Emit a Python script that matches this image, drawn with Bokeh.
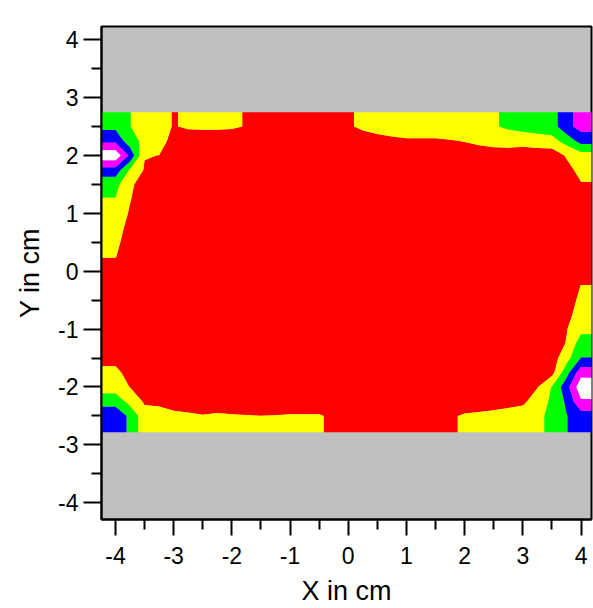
import numpy as np
from bokeh.plotting import figure
from bokeh.models import FixedTicker, Range1d
from bokeh.embed import file_html
from bokeh.resources import INLINE

# grid of the measured field (cm)
x_nodes = [-4.0, -3.75, -3.5, -3.25, -3.0, -2.75, -2.5, -2.25, -2.0, -1.75, -1.5, -1.25, -1.0, -0.75, -0.5, -0.25,
           0.0, 0.25, 0.5, 0.75, 1.0, 1.25, 1.5, 1.75, 2.0, 2.25, 2.5, 2.75, 3.0, 3.25, 3.5, 3.75, 4.0]
y_nodes = [2.5, 2.25, 2.0, 1.75, 1.5, 1.25, 1.0, 0.75, 0.5, 0.25, 0.0, -0.25, -0.5, -0.75, -1.0, -1.25, -1.5,
           -1.75, -2.0, -2.25, -2.5]

# field values, one row per y node (top to bottom), one column per x node
z_rows = [
    [2.76, 2.02, 1.60, 1.30, 0.95, 1.11, 1.15, 1.15, 1.10, 0.96, 0.85, 0.80, 0.80, 0.80, 0.80, 0.85, 0.90, 1.15, 1.30, 1.35, 1.40, 1.45, 1.50, 1.55, 1.60, 1.70, 1.94, 2.10, 2.35, 2.45, 2.56, 3.67, 4.36],
    [3.77, 2.39, 1.74, 1.58, 0.50, 0.50, 0.45, 0.45, 0.50, 0.50, 0.50, 0.50, 0.50, 0.50, 0.50, 0.50, 0.50, 0.61, 0.72, 0.84, 0.90, 0.89, 0.88, 0.95, 1.03, 1.20, 1.38, 1.60, 1.38, 1.51, 1.63, 2.38, 3.36],
    [5.69, 3.77, 1.04, 0.99, 0.50, 0.50, 0.50, 0.50, 0.50, 0.50, 0.50, 0.50, 0.50, 0.50, 0.50, 0.50, 0.50, 0.50, 0.50, 0.50, 0.50, 0.50, 0.50, 0.50, 0.50, 0.50, 0.50, 0.30, 0.43, 0.45, 0.40, 1.10, 1.57],
    [3.60, 1.87, 0.92, 0.50, 0.50, 0.50, 0.50, 0.50, 0.50, 0.50, 0.50, 0.50, 0.50, 0.50, 0.50, 0.50, 0.50, 0.50, 0.50, 0.50, 0.50, 0.50, 0.50, 0.50, 0.50, 0.50, 0.50, 0.50, 0.50, 0.50, 0.50, 0.68, 1.30],
    [2.30, 1.20, 0.50, 0.50, 0.50, 0.50, 0.50, 0.50, 0.50, 0.50, 0.50, 0.50, 0.50, 0.50, 0.50, 0.50, 0.50, 0.50, 0.50, 0.50, 0.50, 0.50, 0.50, 0.50, 0.50, 0.50, 0.50, 0.50, 0.50, 0.50, 0.50, 0.50, 0.93],
    [1.97, 1.05, 0.50, 0.50, 0.50, 0.50, 0.50, 0.50, 0.50, 0.50, 0.50, 0.50, 0.50, 0.50, 0.50, 0.50, 0.50, 0.50, 0.50, 0.50, 0.50, 0.50, 0.50, 0.50, 0.50, 0.50, 0.50, 0.50, 0.50, 0.50, 0.50, 0.50, 0.50],
    [1.60, 0.90, 0.50, 0.50, 0.50, 0.50, 0.50, 0.50, 0.50, 0.50, 0.50, 0.50, 0.50, 0.50, 0.50, 0.50, 0.50, 0.50, 0.50, 0.50, 0.50, 0.50, 0.50, 0.50, 0.50, 0.50, 0.50, 0.50, 0.50, 0.50, 0.50, 0.50, 0.50],
    [1.40, 0.70, 0.50, 0.50, 0.50, 0.50, 0.50, 0.50, 0.50, 0.50, 0.50, 0.50, 0.50, 0.50, 0.50, 0.50, 0.50, 0.50, 0.50, 0.50, 0.50, 0.50, 0.50, 0.50, 0.50, 0.50, 0.50, 0.50, 0.50, 0.50, 0.50, 0.50, 0.50],
    [1.20, 0.60, 0.50, 0.50, 0.50, 0.50, 0.50, 0.50, 0.50, 0.50, 0.50, 0.50, 0.50, 0.50, 0.50, 0.50, 0.50, 0.50, 0.50, 0.50, 0.50, 0.50, 0.50, 0.50, 0.50, 0.50, 0.50, 0.50, 0.50, 0.50, 0.50, 0.50, 0.50],
    [1.03, 0.50, 0.50, 0.50, 0.50, 0.50, 0.50, 0.50, 0.50, 0.50, 0.50, 0.50, 0.50, 0.50, 0.50, 0.50, 0.50, 0.50, 0.50, 0.50, 0.50, 0.50, 0.50, 0.50, 0.50, 0.50, 0.50, 0.50, 0.50, 0.50, 0.50, 0.50, 0.50],
    [0.60, 0.50, 0.50, 0.50, 0.50, 0.50, 0.50, 0.50, 0.50, 0.50, 0.50, 0.50, 0.50, 0.50, 0.50, 0.50, 0.50, 0.50, 0.50, 0.50, 0.50, 0.50, 0.50, 0.50, 0.50, 0.50, 0.50, 0.50, 0.50, 0.50, 0.50, 0.50, 0.60],
    [0.50, 0.50, 0.50, 0.50, 0.50, 0.50, 0.50, 0.50, 0.50, 0.50, 0.50, 0.50, 0.50, 0.50, 0.50, 0.50, 0.50, 0.50, 0.50, 0.50, 0.50, 0.50, 0.50, 0.50, 0.50, 0.50, 0.50, 0.50, 0.50, 0.50, 0.50, 0.50, 1.02],
    [0.50, 0.50, 0.50, 0.50, 0.50, 0.50, 0.50, 0.50, 0.50, 0.50, 0.50, 0.50, 0.50, 0.50, 0.50, 0.50, 0.50, 0.50, 0.50, 0.50, 0.50, 0.50, 0.50, 0.50, 0.50, 0.50, 0.50, 0.50, 0.50, 0.50, 0.50, 0.60, 1.20],
    [0.50, 0.50, 0.50, 0.50, 0.50, 0.50, 0.50, 0.50, 0.50, 0.50, 0.50, 0.50, 0.50, 0.50, 0.50, 0.50, 0.50, 0.50, 0.50, 0.50, 0.50, 0.50, 0.50, 0.50, 0.50, 0.50, 0.50, 0.50, 0.50, 0.50, 0.50, 0.70, 1.45],
    [0.50, 0.50, 0.50, 0.50, 0.50, 0.50, 0.50, 0.50, 0.50, 0.50, 0.50, 0.50, 0.50, 0.50, 0.50, 0.50, 0.50, 0.50, 0.50, 0.50, 0.50, 0.50, 0.50, 0.50, 0.50, 0.50, 0.50, 0.50, 0.50, 0.50, 0.50, 0.95, 1.72],
    [0.50, 0.50, 0.50, 0.50, 0.50, 0.50, 0.50, 0.50, 0.50, 0.50, 0.50, 0.50, 0.50, 0.50, 0.50, 0.50, 0.50, 0.50, 0.50, 0.50, 0.50, 0.50, 0.50, 0.50, 0.50, 0.50, 0.50, 0.50, 0.50, 0.50, 0.50, 1.05, 2.50],
    [0.60, 0.50, 0.50, 0.50, 0.50, 0.50, 0.50, 0.50, 0.50, 0.50, 0.50, 0.50, 0.50, 0.50, 0.50, 0.50, 0.50, 0.50, 0.50, 0.50, 0.50, 0.50, 0.50, 0.50, 0.50, 0.50, 0.50, 0.50, 0.50, 0.50, 0.55, 1.60, 3.02],
    [1.30, 0.55, 0.50, 0.50, 0.50, 0.50, 0.50, 0.50, 0.50, 0.50, 0.50, 0.50, 0.50, 0.50, 0.50, 0.50, 0.50, 0.50, 0.50, 0.50, 0.50, 0.50, 0.50, 0.50, 0.50, 0.50, 0.50, 0.50, 0.50, 0.50, 0.67, 2.60, 4.62],
    [1.43, 0.98, 0.50, 0.50, 0.50, 0.50, 0.50, 0.50, 0.50, 0.50, 0.50, 0.50, 0.50, 0.50, 0.50, 0.50, 0.50, 0.50, 0.50, 0.50, 0.50, 0.50, 0.50, 0.50, 0.50, 0.50, 0.50, 0.50, 0.50, 0.96, 2.05, 3.59, 5.67],
    [2.72, 1.60, 0.89, 0.85, 0.70, 0.60, 0.50, 0.50, 0.50, 0.50, 0.50, 0.50, 0.50, 0.50, 0.50, 0.50, 0.50, 0.50, 0.50, 0.50, 0.50, 0.50, 0.50, 0.50, 0.53, 0.61, 0.70, 0.76, 0.84, 1.40, 2.20, 3.15, 4.87],
    [3.50, 2.84, 1.34, 1.27, 1.17, 1.13, 1.04, 1.12, 1.07, 1.03, 1.01, 1.02, 1.07, 1.07, 1.07, 0.85, 0.80, 0.80, 0.80, 0.80, 0.80, 0.85, 0.85, 0.90, 1.09, 1.15, 1.20, 1.30, 1.40, 1.60, 2.43, 2.96, 3.51],
]

levels = [0, 1, 2, 3, 4, 5, 7]
band_colors = ["#FF0000", "#FFFF00", "#00FF00", "#0000FF", "#FF00FF", "#FFFFFF"]

x_ticks = [-4, -3, -2, -1, 0, 1, 2, 3, 4]
x_minor = [-3.5, -2.5, -1.5, -0.5, 0.5, 1.5, 2.5, 3.5]
y_ticks = [-4, -3, -2, -1, 0, 1, 2, 3, 4]
y_minor = [-3.5, -2.5, -1.5, -0.5, 0.5, 1.5, 2.5, 3.5]
tick_labels = {-4: "-4", -3: "-3", -2: "-2", -1: "-1", 0: "0", 1: "1", 2: "2", 3: "3", 4: "4"}

# data grid ascending in y, edge rows/columns extended to the measured strip edges
z = np.array(z_rows)[::-1]
yy = np.array(y_nodes)[::-1]
xp = np.concatenate([[-4.3], np.array(x_nodes), [4.3]])
yp = np.concatenate([[-2.78], yy, [2.75]])
zp = np.pad(z, 1, mode="edge")

p = figure(width=593, height=608, x_range=Range1d(-4.24, 4.18), y_range=Range1d(-4.29, 4.23),
           output_backend="svg", toolbar_location=None,
           min_border_left=101, min_border_right=2, min_border_top=26, min_border_bottom=88)
p.background_fill_color = "#C0C0C0"
p.border_fill_color = "white"
p.outline_line_color = "black"
p.outline_line_width = 2
p.grid.visible = False

p.contour(xp, yp, zp, levels, fill_color=band_colors, line_color=None)

font = "Liberation Sans"
for ax, ticks, minor in ((p.xaxis[0], x_ticks, x_minor), (p.yaxis[0], y_ticks, y_minor)):
    ax.ticker = FixedTicker(ticks=ticks, minor_ticks=minor)
    ax.major_label_overrides = tick_labels
    ax.axis_line_width = 2
    ax.axis_line_color = "black"
    ax.major_tick_line_width = 2
    ax.minor_tick_line_width = 2
    ax.major_tick_line_color = "black"
    ax.minor_tick_line_color = "black"
    ax.major_tick_in = 0
    ax.minor_tick_in = 0
    ax.minor_tick_out = 10
    ax.major_label_text_font = font
    ax.major_label_text_font_size = "23px"
    ax.major_label_text_color = "black"
    ax.axis_label_text_font = font
    ax.axis_label_text_font_size = "27px"
    ax.axis_label_text_font_style = "normal"
    ax.axis_label_text_color = "black"

p.xaxis.axis_label = "X in cm"
p.yaxis.axis_label = "Y in cm"
p.xaxis.major_tick_out = 16
p.yaxis.major_tick_out = 18
p.xaxis.major_label_standoff = 11
p.yaxis.major_label_standoff = 5
p.xaxis.axis_label_standoff = 9
p.yaxis.axis_label_standoff = 10

open("out.html", "w").write(file_html(p, INLINE))
